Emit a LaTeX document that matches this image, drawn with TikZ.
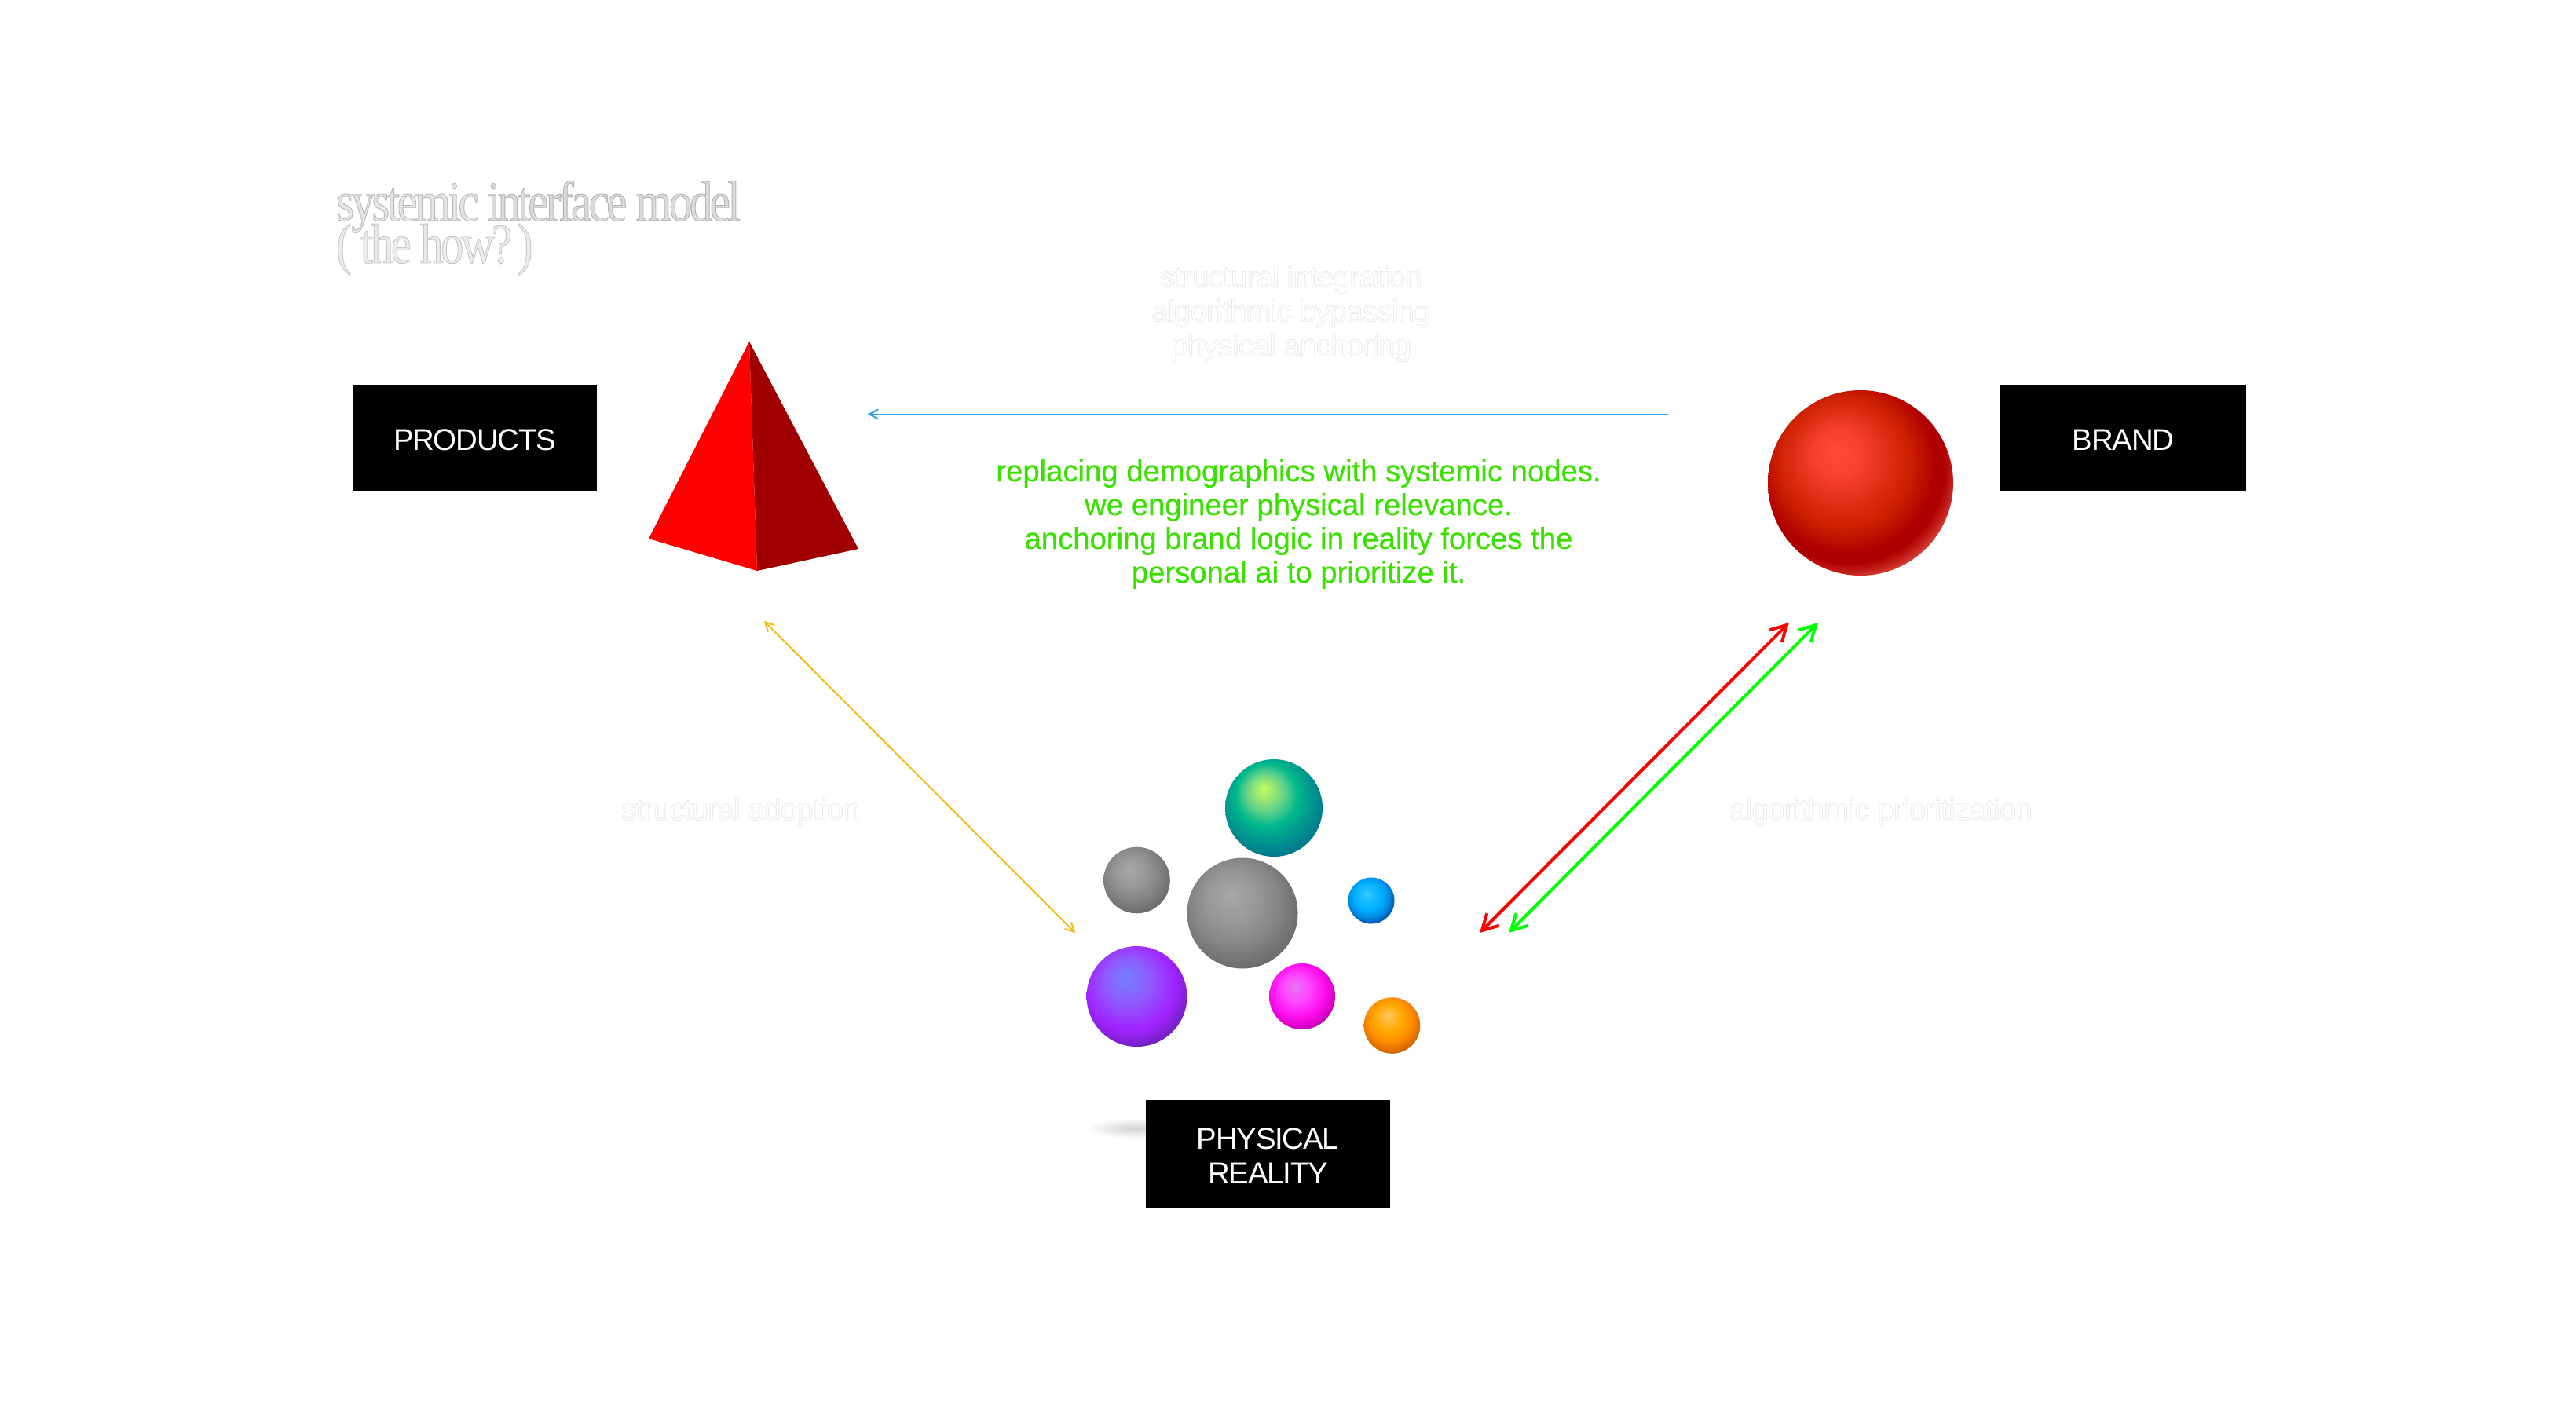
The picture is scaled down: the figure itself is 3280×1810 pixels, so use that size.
\documentclass[tikz,border=0pt]{standalone}
\usepackage{fontspec}
\setmainfont{Liberation Sans}
\newfontfamily\labelface[LetterSpace=-3.2]{Liberation Sans}
\newfontfamily\captionface[LetterSpace=-1.9]{Liberation Sans}
\newfontfamily\bodyface[LetterSpace=-0.15,FakeBold=0.25]{Liberation Sans}
\newfontfamily\titleface[LetterSpace=-5,FakeStretch=0.82]{Liberation Serif}
\usetikzlibrary{arrows.meta}

% Sphere shadings: a TikZ path fills the inner 25bp radius of a radial shading
\pgfdeclareradialshading{ballLeaf}{\pgfpoint{-5.5bp}{10bp}}{rgb(0bp)=(.76,1,.37);rgb(5bp)=(.6,.9,.45);rgb(10bp)=(.37,.82,.54);rgb(16bp)=(0,.72,.55);rgb(23bp)=(0,.58,.56);rgb(30bp)=(0,.46,.56);rgb(50bp)=(0,.46,.56)}
\pgfdeclareradialshading{ballStone}{\pgfpoint{-6bp}{8.5bp}}{rgb(0bp)=(.66,.66,.66);rgb(12bp)=(.59,.59,.59);rgb(20bp)=(.52,.52,.52);rgb(28bp)=(.43,.43,.43);rgb(50bp)=(.43,.43,.43)}
\pgfdeclareradialshading{ballSky}{\pgfpoint{-5.5bp}{7.5bp}}{rgb(0bp)=(.25,.8,1);rgb(5bp)=(.12,.75,1);rgb(15bp)=(0,.69,1);rgb(22bp)=(0,.55,.9);rgb(28bp)=(0,.35,.69);rgb(50bp)=(0,.35,.69)}
\pgfdeclareradialshading{ballViolet}{\pgfpoint{-6bp}{10bp}}{rgb(0bp)=(.44,.5,1);rgb(11bp)=(.56,.36,1);rgb(22bp)=(.63,.14,1);rgb(26bp)=(.54,.13,.88);rgb(30bp)=(.42,.13,.71);rgb(50bp)=(.42,.13,.71)}
\pgfdeclareradialshading{ballPink}{\pgfpoint{-6bp}{7.5bp}}{rgb(0bp)=(.9,.47,.94);rgb(10bp)=(1,.28,1);rgb(20bp)=(1,.06,.94);rgb(26bp)=(.88,0,.82);rgb(30bp)=(.63,0,.56);rgb(50bp)=(.63,0,.56)}
\pgfdeclareradialshading{ballAmber}{\pgfpoint{-4bp}{9bp}}{rgb(0bp)=(1,.78,.38);rgb(12bp)=(1,.66,0);rgb(20bp)=(1,.55,0);rgb(26bp)=(.88,.44,0);rgb(30bp)=(.72,.38,.03);rgb(50bp)=(.72,.38,.03)}
\pgfdeclareradialshading{ballRuby}{\pgfpoint{-7bp}{9bp}}{rgb(0bp)=(1,.29,.21);rgb(6bp)=(.98,.26,.18);rgb(12bp)=(.88,.19,.1);rgb(18bp)=(.8,.12,0);rgb(24bp)=(.68,0,0);rgb(26bp)=(.68,0,0);rgb(28bp)=(.76,.12,.1);rgb(30bp)=(.86,.29,.27);rgb(50bp)=(.86,.29,.27)}
\pgfdeclareradialshading{softShadow}{\pgfpoint{0bp}{0bp}}{rgb(0bp)=(.82,.82,.82);rgb(25bp)=(1,1,1);rgb(50bp)=(1,1,1)}

% Text drawn as a fill plus a thin outline: #1 outline grey, #2 fill grey, #3 the words
\newcommand{\inked}[3]{\special{pdf:code #1 G #2 g 2 Tr 0.45 w}#3\special{pdf:code 0 Tr}}
\newcommand{\ghost}[1]{\inked{0.92}{1}{#1}}
% Extra first-line height that seats box labels slightly below centre
\newcommand{\capline}{\rule{0pt}{16.4pt}}

\tikzset{
  px/.style={x=0.5pt,y=-0.5pt},
  blackbox/.style={fill=black,text=white,inner sep=0pt,align=center,
    font=\labelface\fontsize{19.2}{21.9}\selectfont},
  ball/.style={circle,inner sep=0pt,minimum size=#1*1pt,draw=none},
  faint/.style={align=center,font=\captionface\fontsize{19.2}{21.8}\selectfont},
  bodytext/.style={align=center,text={rgb,255:red,58;green,224;blue,0},font=\bodyface\fontsize{19.2}{21.5}\selectfont},
  headline/.style={align=left,font=\titleface\fontsize{36}{26.8}\selectfont},
  link/.style={line cap=round},
  thinlink/.style={link,line width=1pt,{Straight Barb[length=5.5pt,width=6pt]}-{Straight Barb[length=5.5pt,width=6pt]}},
  boldlink/.style={link,line width=2pt,{Straight Barb[length=10pt,width=11pt]}-{Straight Barb[length=10pt,width=11pt]}}
}

\begin{document}
\begin{tikzpicture}[px]
\useasboundingbox[fill=white] (0,0) rectangle (3280,1810);

% Heading
\node[headline,anchor=base west] (heading) at (421,335)
  {\inked{0.72}{0.90}{systemic }\inked{0.70}{0.86}{interface model}\\[-6.7pt]\inked{0.78}{0.92}{( the how?\hspace{-4pt} )}};

% Label boxes
\node[blackbox,minimum width=155.5pt,minimum height=67.5pt] (products) at (604.5,557) {\capline PRODUCTS};
\node[blackbox,minimum width=156.5pt,minimum height=67.5pt] (brand) at (2703.5,557) {\capline BRAND};
\path[shading=softShadow] (1445,1437) ellipse [x radius=62,y radius=13];
\node[blackbox,minimum width=155.5pt,minimum height=68.5pt] (reality) at (1614.5,1469) {\capline PHYSICAL\\REALITY};

% Pyramid
\coordinate (apex) at (954,435);
\coordinate (baseL) at (826,686);
\coordinate (baseF) at (964,727);
\coordinate (baseR) at (1093,699);
\fill[red] (apex) -- (baseL) -- (baseF) -- cycle;
\fill[red!63!black] (apex) -- (baseF) -- (baseR) -- cycle;

% Spheres
\node[ball=118,shading=ballRuby] (rubyBall) at (2369,615) {};
\node[ball=62,shading=ballLeaf] (leafBall) at (1622,1029) {};
\node[ball=42.3,shading=ballStone] (stoneSmall) at (1447.5,1121) {};
\node[ball=70.5,shading=ballStone] (stoneLarge) at (1582,1163) {};
\node[ball=29.5,shading=ballSky] (skyBall) at (1746,1147) {};
\node[ball=64,shading=ballViolet] (violetBall) at (1447.5,1269) {};
\node[ball=42,shading=ballPink] (pinkBall) at (1658,1269) {};
\node[ball=35.8,shading=ballAmber] (amberBall) at (1772.4,1306) {};

% Connector ends
\coordinate (blueFrom) at (2123,527.5);
\coordinate (blueTo) at (1105,527.5);
\coordinate (amberA) at (973,791);
\coordinate (amberB) at (1369,1188);
\coordinate (redA) at (2278,793);
\coordinate (redB) at (1884,1188);
\coordinate (greenA) at (2315,793);
\coordinate (greenB) at (1921,1188);

\draw[link,line width=1pt,draw={rgb,255:red,42;green,160;blue,232},-{Straight Barb[length=5.5pt,width=6pt]}] (blueFrom) -- (blueTo);
\draw[thinlink,draw={rgb,255:red,248;green,184;blue,24}] (amberA) -- (amberB);
\draw[boldlink,draw=red] (redA) -- (redB);
\draw[boldlink,draw=green] (greenA) -- (greenB);

% Captions
\node[faint,anchor=base] (capTop) at (1644,453)
  {\ghost{structural integration}\\\ghost{algorithmic bypassing}\\\ghost{physical anchoring}};
\node[faint,anchor=base] (capLeft) at (943,1044) {\ghost{structural adoption}};
\node[faint,anchor=base] (capRight) at (2395,1044) {\ghost{algorithmic prioritization}};
\node[bodytext,anchor=base] (body) at (1653.5,742)
  {replacing demographics with systemic nodes.\\we engineer physical relevance.\\anchoring brand logic in reality forces the\\personal ai to prioritize it.};
\end{tikzpicture}
\end{document}
